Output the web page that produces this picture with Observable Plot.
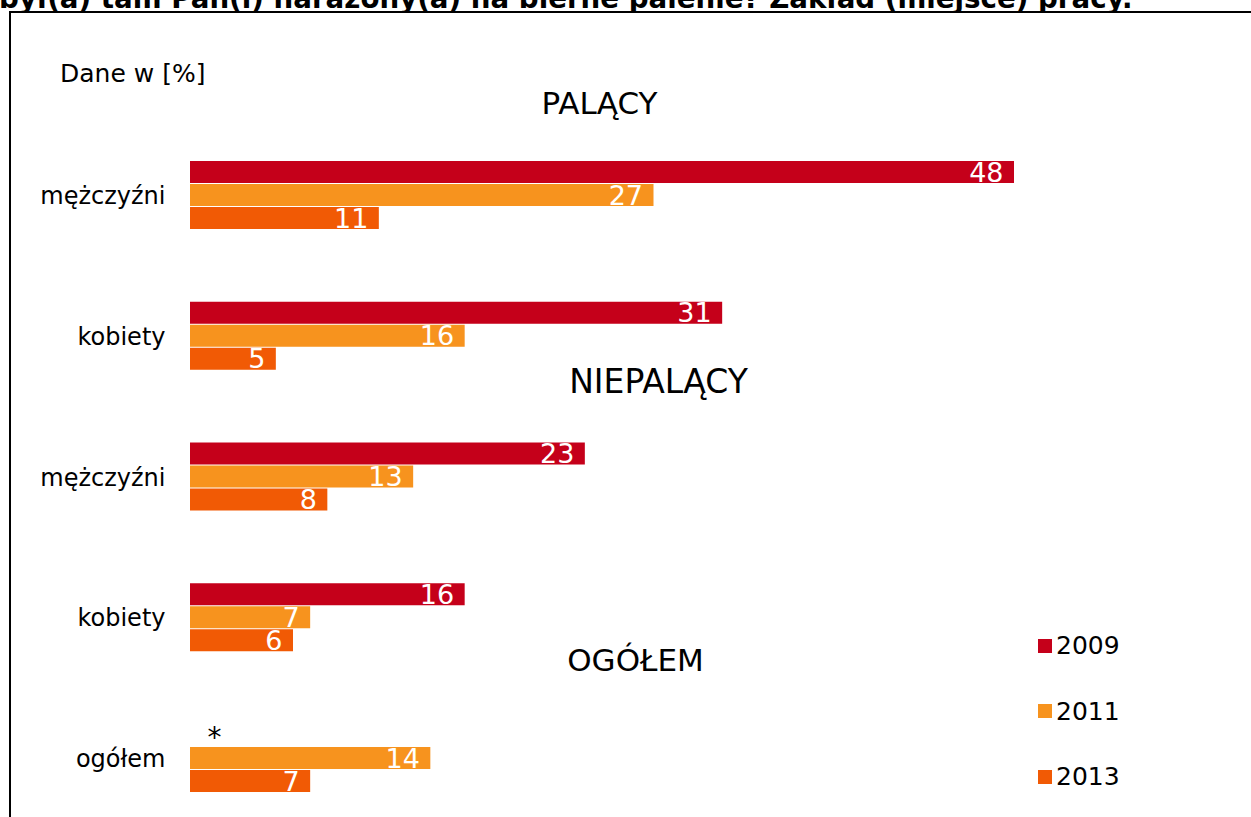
<!DOCTYPE html>
<html><head><meta charset="utf-8">
<script src="https://cdn.jsdelivr.net/npm/d3@7"></script>
<script src="https://cdn.jsdelivr.net/npm/@observablehq/plot@0.6"></script>
<style>
html,body{margin:0;padding:0;overflow:hidden;background:#fff;width:1251px;height:817px;}
body{position:relative;font-family:"DejaVu Sans",Verdana,sans-serif;color:#000;}
#title{position:absolute;left:-1px;top:-15px;font-weight:bold;font-size:27.7px;line-height:27.7px;white-space:nowrap;}
#frame{position:absolute;left:9px;top:11px;width:1300px;height:900px;border-left:2px solid #000;border-top:2px solid #000;background:#fff;}
#chart{position:absolute;left:0;top:0;}
#unit{position:absolute;left:60px;top:61px;font-size:25px;line-height:25px;white-space:nowrap;}
#legend{position:absolute;left:1038px;top:633px;}
.item{display:flex;align-items:center;height:25px;margin-bottom:40.5px;font-size:25px;line-height:25px;}
.sw{width:14px;height:14px;margin-right:4px;}
</style></head>
<body>
<div id="title">był(a) tam Pan(i) narażony(a) na bierne palenie? Zakład (miejsce) pracy.</div>
<div id="frame"></div>
<div id="chart"></div>
<div id="unit">Dane w [%]</div>
<div id="legend"></div>
<script>
const groupKeys = ["pal_m", "pal_k", "niepal_m", "niepal_k", "ogolem"];
const groupLabels = ["mężczyźni", "kobiety", "mężczyźni", "kobiety", "ogółem"];
const years = ["2009", "2011", "2013"];
const values2009 = [48, 31, 23, 16, null];
const values2011 = [27, 16, 13, 7, 14];
const values2013 = [11, 5, 8, 6, 7];
const colors = ["#c5001a", "#f7931e", "#f15a05"];
const sections = ["PALĄCY", "NIEPALĄCY", "OGÓŁEM"];

const series = [values2009, values2011, values2013];
const data = [];
groupKeys.forEach((k, i) => {
  years.forEach((y, j) => data.push({key: k, year: y, value: series[j][i]}));
});
const labelOf = Object.fromEntries(groupKeys.map((k, i) => [k, groupLabels[i]]));
const maxV = d3.max(data, d => d.value);

const header = (i, key, dx, dy, size) => Plot.text([sections[i]], {
  fy: () => key, text: d => d, frameAnchor: "top", lineAnchor: "middle", dx, dy,
  fontSize: size, fill: "black"
});

const plot = Plot.plot({
  width: 1251,
  height: 817,
  marginLeft: 190,
  marginRight: 237,
  marginTop: 138,
  marginBottom: 0,
  style: {fontSize: "24px", fontFamily: "'DejaVu Sans', Verdana, sans-serif", background: "transparent"},
  x: {domain: [0, maxV], axis: null},
  y: {domain: years, padding: 0, axis: null},
  fy: {domain: groupKeys, paddingInner: 0.4885, paddingOuter: 0.1563, round: false,
       axis: "left", label: null, tickSize: 0, tickPadding: 25, tickFormat: k => labelOf[k]},
  color: {domain: years, range: colors},
  marks: [
    Plot.barX(data, {x: "value", y: "year", fy: "key", fill: "year", insetBottom: 1}),
    Plot.text(data, {x: "value", y: "year", fy: "key", text: d => d.value,
      textAnchor: "end", dx: -11, fill: "white", fontSize: 27}),
    Plot.text(data.filter(d => d.value == null), {x: () => 0, y: "year", fy: "key", text: () => "*",
      dx: 24, dy: 2, fontSize: 28, fill: "black"}),
    header(0, groupKeys[0], -3, -56, 31),
    header(1, groupKeys[2], 56, -60, 33),
    header(2, groupKeys[4], 33, -62, 31)
  ]
});
document.getElementById("chart").appendChild(plot);

const legend = d3.select("#legend");
years.forEach((y, i) => {
  const it = legend.append("div").attr("class", "item");
  it.append("div").attr("class", "sw").style("background", colors[i]);
  it.append("span").text(y);
});
</script>
</body></html>
